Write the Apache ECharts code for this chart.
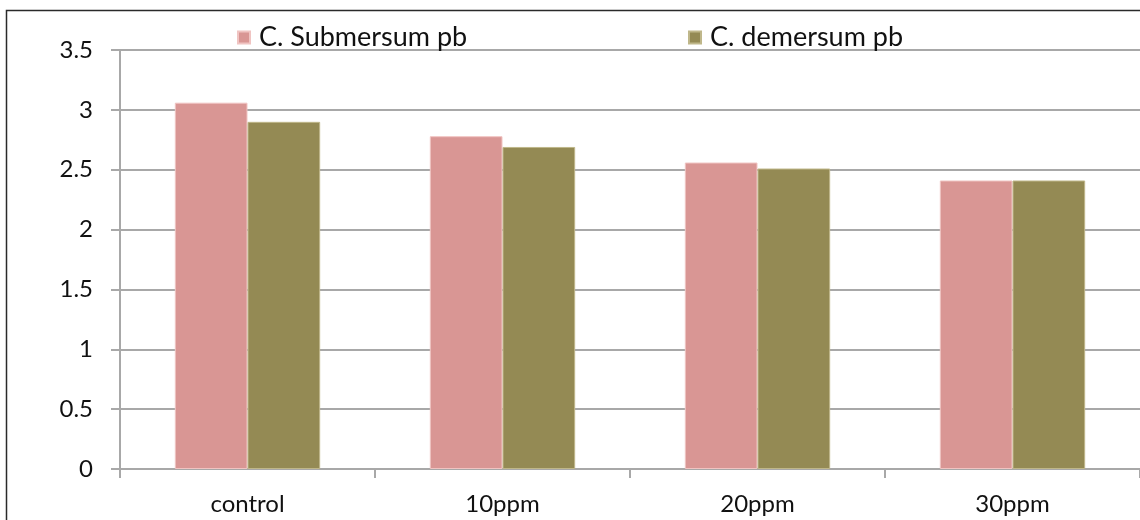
<!DOCTYPE html>
<html>
<head>
<meta charset="utf-8">
<script src="https://cdn.jsdelivr.net/npm/echarts@6/dist/echarts.min.js"></script>
<style>
  html, body { margin: 0; padding: 0; background: #fff; overflow: hidden; }
  #chart { width: 1140px; height: 520px; }
</style>
</head>
<body>
<div id="chart"></div>
<script>
// Pb uptake by two Ceratophyllum species at increasing concentrations
const categories = ['control', '10ppm', '20ppm', '30ppm'];
const seriesNames = ['C. Submersum pb', 'C. demersum pb'];
const submersumValues = [3.06, 2.78, 2.56, 2.41];
const demersumValues = [2.90, 2.69, 2.51, 2.41];

const FONT = 'Lato, "Open Sans", sans-serif';
const TEXT = '#111111';
const GRID = '#a8a8a8';

const legendText = { fontFamily: FONT, fontSize: 27, color: TEXT, lineHeight: 26, padding: [0, 0, 0, 4] };

const chart = echarts.init(document.getElementById('chart'), null, { renderer: 'canvas' });

chart.setOption({
  animation: false,
  backgroundColor: '#ffffff',
  graphic: [
    // frame along the top and left edges of the chart
    {
      type: 'polyline', silent: true, z: 0,
      shape: { points: [[6.5, 530], [6.5, 10.5], [1200, 10.5]] },
      style: { stroke: '#2a2a2a', lineWidth: 1.5, fill: null }
    }
  ],
  legend: [
    {
      data: [seriesNames[0]],
      left: 237, top: 24, padding: 0,
      icon: 'rect', itemWidth: 12, itemHeight: 12, itemGap: 0,
      textStyle: legendText
    },
    {
      data: [seriesNames[1]],
      left: 688, top: 24, padding: 0,
      icon: 'rect', itemWidth: 12, itemHeight: 12, itemGap: 0,
      textStyle: legendText
    }
  ],
  grid: { left: 120, top: 50, bottom: 51, right: -4, containLabel: false },
  xAxis: {
    type: 'category',
    data: categories,
    axisLine: { show: true, lineStyle: { color: GRID, width: 2 } },
    axisTick: { show: true, alignWithLabel: false, length: 9, lineStyle: { color: GRID, width: 2 } },
    splitLine: { show: false },
    axisLabel: { fontFamily: FONT, fontSize: 24, color: TEXT, margin: 23 }
  },
  yAxis: {
    type: 'value',
    min: 0, max: 3.5, interval: 0.5,
    axisLine: { show: true, lineStyle: { color: GRID, width: 2 } },
    axisTick: { show: true, length: 9, lineStyle: { color: GRID, width: 2 } },
    splitLine: { show: true, lineStyle: { color: GRID, width: 2 } },
    axisLabel: { fontFamily: FONT, fontSize: 24, color: TEXT, margin: 27 }
  },
  series: [
    {
      name: seriesNames[0],
      type: 'bar',
      data: submersumValues,
      barGap: '0%',
      barCategoryGap: '43%',
      itemStyle: { color: '#D99694', borderColor: '#f0c4c2', borderWidth: 1 }
    },
    {
      name: seriesNames[1],
      type: 'bar',
      data: demersumValues,
      barGap: '0%',
      barCategoryGap: '43%',
      itemStyle: { color: '#948A54', borderColor: '#bfb78a', borderWidth: 1 }
    }
  ]
});
</script>
</body>
</html>
